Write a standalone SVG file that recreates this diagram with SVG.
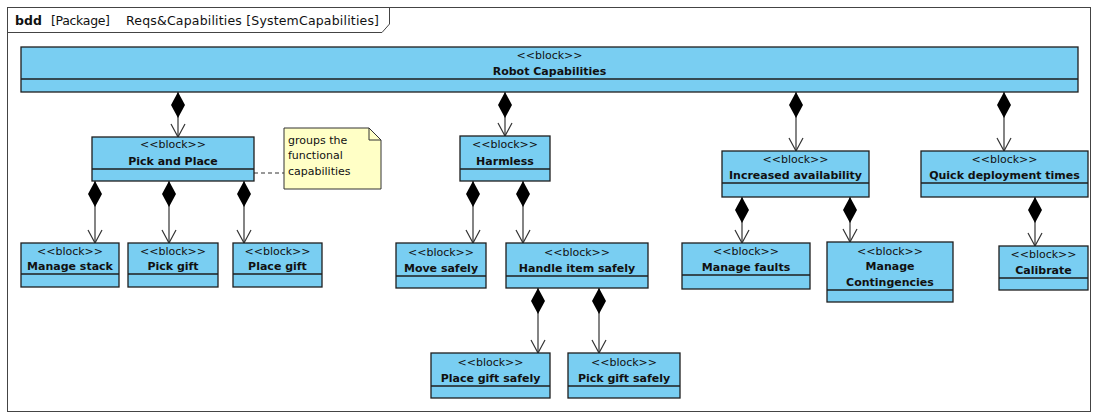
<svg xmlns="http://www.w3.org/2000/svg" width="1094" height="415" viewBox="0 0 1094 415">
<style>
text{font-family:"DejaVu Sans","Liberation Sans",sans-serif;fill:#111}
.st{font-size:11px;text-anchor:middle}
.nm{font-size:11px;font-weight:bold;text-anchor:middle}
.blk{fill:#79CEF2;stroke:#1e1e1e;stroke-width:1.3}
.div{stroke:#1e1e1e;stroke-width:1.3;fill:none}
.con{stroke:#333;stroke-width:1.2;fill:none;marker-start:url(#dia);marker-end:url(#arr)}
.ttl{font-size:12.5px}
</style>
<defs>
<marker id="dia" markerUnits="userSpaceOnUse" viewBox="0 0 26 14" refX="0" refY="7" markerWidth="26" markerHeight="14" orient="auto"><path d="M0,7 L13,0 L26,7 L13,14 Z" fill="#000"/></marker>
<marker id="arr" markerUnits="userSpaceOnUse" viewBox="-1 -1 16 16" refX="13" refY="7" markerWidth="16" markerHeight="16" orient="auto"><path d="M0,0 L13,7 L0,14" fill="none" stroke="#333" stroke-width="1.2"/></marker>
</defs>
<rect width="1094" height="415" fill="#fff"/>
<g id="frame">
<rect x="7.5" y="7.5" width="1083" height="404" fill="none" stroke="#444" stroke-width="1"/>
<path d="M7.5,32.5 H382 L389.5,24 V7.5" fill="none" stroke="#444" stroke-width="1"/>
<text x="15" y="25" class="ttl" font-weight="bold">bdd</text>
<text x="51" y="25" class="ttl" textLength="59">[Package]</text>
<text x="126" y="25" class="ttl" textLength="253">Reqs&amp;Capabilities [SystemCapabilities]</text>
</g>
<g id="connectors">
<path class="con" d="M178,92 V137"/>
<path class="con" d="M505,92 V136"/>
<path class="con" d="M796,92 V151"/>
<path class="con" d="M1004,92 V151"/>
<path class="con" d="M95,181 V243"/>
<path class="con" d="M169,181 V243"/>
<path class="con" d="M244,181 V243"/>
<path class="con" d="M473,181 V243"/>
<path class="con" d="M523,181 V243"/>
<path class="con" d="M538,288 V353"/>
<path class="con" d="M599,288 V353"/>
<path class="con" d="M742,197 V243"/>
<path class="con" d="M850,197 V242"/>
<path class="con" d="M1035,197 V246"/>
<path d="M254,173 H284" stroke="#333" stroke-width="1" stroke-dasharray="4,3" fill="none"/>
</g>
<g id="robot">
<rect class="blk" x="21" y="47" width="1057" height="45"/><path class="div" d="M21,79 H1078"/>
<text class="st" x="549.5" y="59">&lt;&lt;block&gt;&gt;</text><text class="nm" x="549.5" y="75">Robot Capabilities</text>
</g>
<g id="pickplace">
<rect class="blk" x="92" y="137" width="162" height="44"/><path class="div" d="M92,169 H254"/>
<text class="st" x="173" y="148">&lt;&lt;block&gt;&gt;</text><text class="nm" x="173" y="165">Pick and Place</text>
</g>
<g id="note">
<path d="M284,128 H369 L381,140 V189 H284 Z" fill="#FFFFC6" stroke="#333" stroke-width="1"/>
<path d="M369,128 V140 H381" fill="none" stroke="#333" stroke-width="1"/>
<text x="288" y="144" font-size="11">groups the</text>
<text x="288" y="159" font-size="11">functional</text>
<text x="288" y="175" font-size="11">capabilities</text>
</g>
<g id="harmless">
<rect class="blk" x="460" y="136" width="90" height="45"/><path class="div" d="M460,169 H550"/>
<text class="st" x="505" y="148">&lt;&lt;block&gt;&gt;</text><text class="nm" x="505" y="165">Harmless</text>
</g>
<g id="increased">
<rect class="blk" x="722" y="151" width="147" height="46"/><path class="div" d="M722,183 H869"/>
<text class="st" x="795.5" y="163">&lt;&lt;block&gt;&gt;</text><text class="nm" x="795.5" y="179">Increased availability</text>
</g>
<g id="quick">
<rect class="blk" x="921" y="151" width="167" height="46"/><path class="div" d="M921,183 H1088"/>
<text class="st" x="1004.5" y="163">&lt;&lt;block&gt;&gt;</text><text class="nm" x="1004.5" y="179">Quick deployment times</text>
</g>
<g id="managestack">
<rect class="blk" x="21" y="243" width="98" height="44"/><path class="div" d="M21,274 H119"/>
<text class="st" x="70" y="255">&lt;&lt;block&gt;&gt;</text><text class="nm" x="70" y="270">Manage stack</text>
</g>
<g id="pickgift">
<rect class="blk" x="128" y="243" width="90" height="44"/><path class="div" d="M128,274 H218"/>
<text class="st" x="173" y="255">&lt;&lt;block&gt;&gt;</text><text class="nm" x="173" y="270">Pick gift</text>
</g>
<g id="placegift">
<rect class="blk" x="233" y="243" width="89" height="44"/><path class="div" d="M233,274 H322"/>
<text class="st" x="277.5" y="255">&lt;&lt;block&gt;&gt;</text><text class="nm" x="277.5" y="270">Place gift</text>
</g>
<g id="movesafely">
<rect class="blk" x="396" y="243" width="90" height="45"/><path class="div" d="M396,276 H486"/>
<text class="st" x="441" y="256">&lt;&lt;block&gt;&gt;</text><text class="nm" x="441" y="272">Move safely</text>
</g>
<g id="handleitem">
<rect class="blk" x="506" y="243" width="142" height="45"/><path class="div" d="M506,276 H648"/>
<text class="st" x="577" y="256">&lt;&lt;block&gt;&gt;</text><text class="nm" x="577" y="272">Handle item safely</text>
</g>
<g id="placegiftsafely">
<rect class="blk" x="431" y="353" width="119" height="45"/><path class="div" d="M431,386 H550"/>
<text class="st" x="490.5" y="366">&lt;&lt;block&gt;&gt;</text><text class="nm" x="490.5" y="382">Place gift safely</text>
</g>
<g id="pickgiftsafely">
<rect class="blk" x="568" y="353" width="112" height="45"/><path class="div" d="M568,386 H680"/>
<text class="st" x="624" y="366">&lt;&lt;block&gt;&gt;</text><text class="nm" x="624" y="382">Pick gift safely</text>
</g>
<g id="managefaults">
<rect class="blk" x="682" y="243" width="128" height="46"/><path class="div" d="M682,275 H810"/>
<text class="st" x="746" y="255">&lt;&lt;block&gt;&gt;</text><text class="nm" x="746" y="271">Manage faults</text>
</g>
<g id="contingencies">
<rect class="blk" x="827" y="242" width="126" height="60"/><path class="div" d="M827,290 H953"/>
<text class="st" x="890" y="255">&lt;&lt;block&gt;&gt;</text><text class="nm" x="890" y="270">Manage</text><text class="nm" x="890" y="286">Contingencies</text>
</g>
<g id="calibrate">
<rect class="blk" x="999" y="246" width="89" height="44"/><path class="div" d="M999,278 H1088"/>
<text class="st" x="1043.5" y="258">&lt;&lt;block&gt;&gt;</text><text class="nm" x="1043.5" y="274">Calibrate</text>
</g>
</svg>
